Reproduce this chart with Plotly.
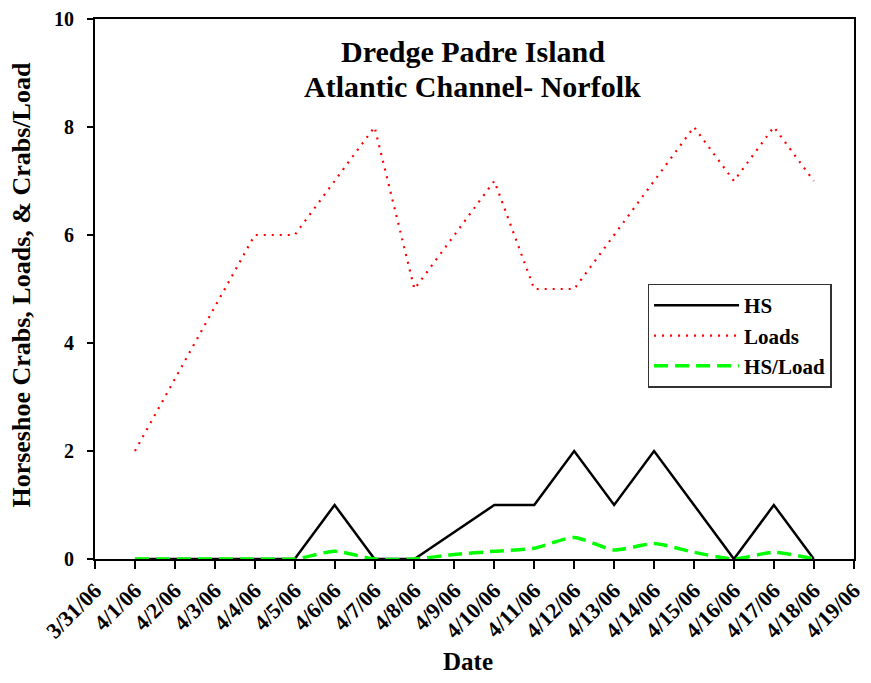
import plotly.graph_objects as go

dates = ["2006-04-01", "2006-04-02", "2006-04-03", "2006-04-04", "2006-04-05", "2006-04-06",
         "2006-04-07", "2006-04-08", "2006-04-09", "2006-04-10", "2006-04-11", "2006-04-12",
         "2006-04-13", "2006-04-14", "2006-04-15", "2006-04-16", "2006-04-17", "2006-04-18"]
hs = [0, 0, 0, 0, 0, 1, 0, 0, 0.5, 1, 1, 2, 1, 2, 1, 0, 1, 0]
loads = [2, None, None, 6, 6, 7, 8, 5, 6, 7, 5, 5, 6, 7, 8, 7, 8, 7]
hs_per_load = [0, 0, 0, 0, 0, 0.143, 0, 0, 0.083, 0.143, 0.2, 0.4, 0.167, 0.286, 0.125, 0, 0.125, 0]

title_lines = ["Dredge Padre Island", "Atlantic Channel- Norfolk"]
x_title = "Date"
y_title = "Horseshoe Crabs, Loads, & Crabs/Load"

FONT = "Liberation Serif"

fig = go.Figure()
fig.add_trace(go.Scatter(x=dates, y=hs, name="<b>HS</b>", mode="lines",
                         line=dict(color="black", width=2.5)))
fig.add_trace(go.Scatter(x=dates, y=loads, name="<b>Loads</b>", mode="lines", connectgaps=True,
                         line=dict(color="red", width=2.2, dash="2px,6px")))
fig.add_trace(go.Scatter(x=dates, y=hs_per_load, name="<b>HS/Load</b>", mode="lines",
                         line=dict(color="#00ff00", width=3.5, dash="14px,7px", shape="spline", smoothing=0.6)))

annotations = [
    dict(text="<b>" + title_lines[0] + "</b>", x=0.498, y=0.94, xanchor="center", yanchor="middle",
         font=dict(family=FONT, size=30, color="black")),
    dict(text="<b>" + title_lines[1] + "</b>", x=0.498, y=0.875, xanchor="center", yanchor="middle",
         font=dict(family=FONT, size=30, color="black")),
    dict(text="<b>" + x_title + "</b>", x=0.492, y=-0.19, xanchor="center", yanchor="middle",
         font=dict(family=FONT, size=25, color="black")),
    dict(text="<b>" + y_title + "</b>", x=-0.097, y=0.507, xanchor="center", yanchor="middle",
         textangle=-90, font=dict(family=FONT, size=26, color="black")),
]
for a in annotations:
    a.update(xref="paper", yref="paper", showarrow=False)

fig.update_layout(
    width=855, height=667,
    margin=dict(l=87, r=9, t=11, b=116),
    paper_bgcolor="white", plot_bgcolor="white",
    font=dict(family=FONT, color="black", size=16),
    showlegend=True,
    legend=dict(x=0.728, y=0.51, xanchor="left", yanchor="top",
                bordercolor="#333", borderwidth=1.5, bgcolor="white",
                font=dict(family=FONT, size=21, color="black"),
                itemwidth=85, tracegroupgap=0),
    annotations=annotations,
)
fig.update_xaxes(
    type="date", range=["2006-03-31", "2006-04-19 00:10"], automargin=False,
    dtick=86400000, tick0="2006-03-31", tickformat="%-m/%-d/%y",
    tickangle=-45, ticks="outside", ticklen=8, tickwidth=1.5, tickcolor="black",
    ticklabeloverflow="allow",
    tickfont=dict(family=FONT, size=22, color="black", weight="bold"),
    showline=True, linecolor="black", linewidth=2, mirror=True,
    showgrid=False, zeroline=False,
)
fig.update_yaxes(
    range=[0, 10], dtick=2, automargin=False,
    ticks="outside", ticklen=6, tickwidth=1.5, tickcolor="black", ticklabelstandoff=9,
    ticklabeloverflow="allow",
    tickfont=dict(family=FONT, size=20, color="black", weight="bold"),
    showline=True, linecolor="black", linewidth=2, mirror=True,
    showgrid=False, zeroline=False,
)

fig.write_html("out.html")
